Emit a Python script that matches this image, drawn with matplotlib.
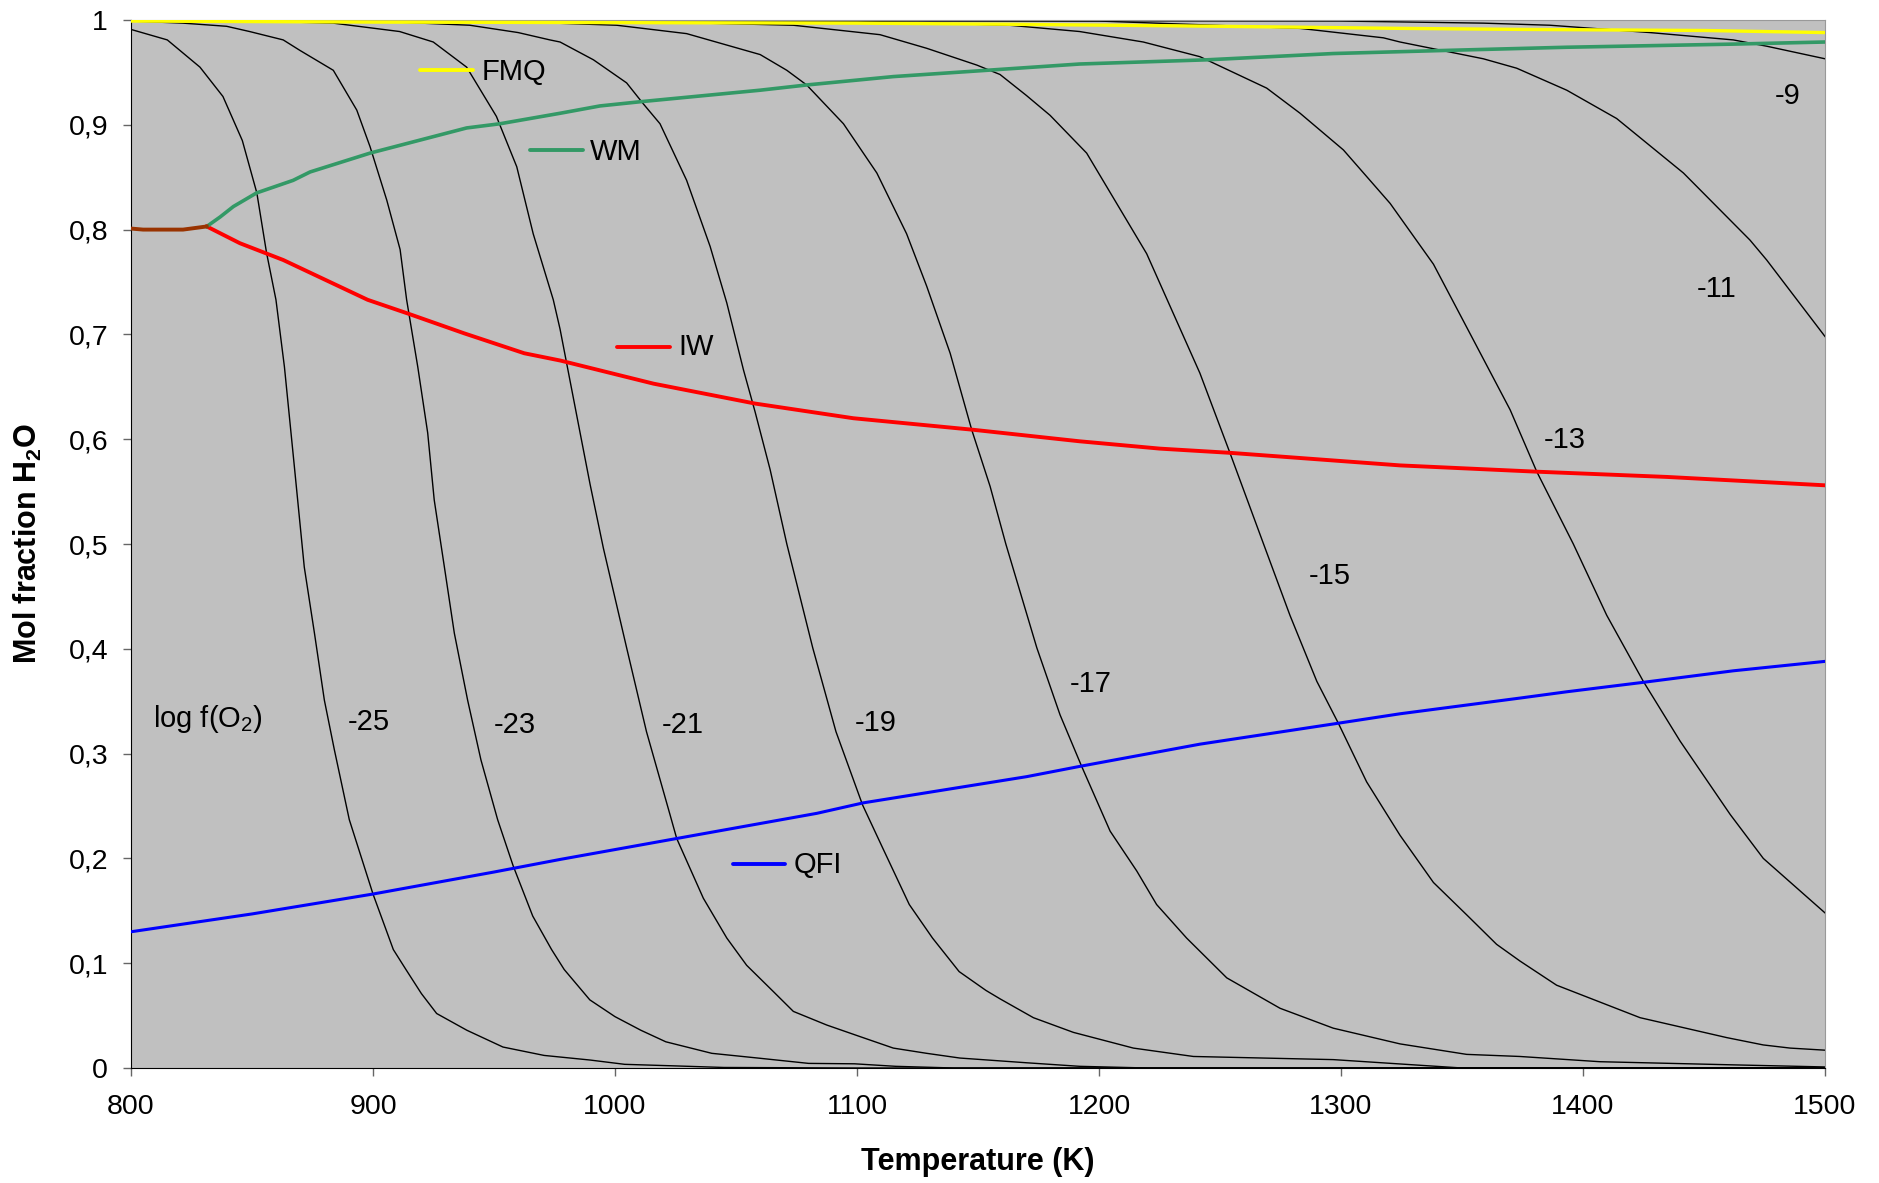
import matplotlib

matplotlib.use("Agg")
import matplotlib.pyplot as plt

plt.rcParams["font.family"] = ["Liberation Sans", "DejaVu Sans"]
plt.rcParams["mathtext.fontset"] = "custom"
plt.rcParams["mathtext.rm"] = "Liberation Sans"
plt.rcParams["mathtext.it"] = "Liberation Sans:italic"
plt.rcParams["mathtext.bf"] = "Liberation Sans:bold"

# --- buffer lines (mol fraction H2O vs temperature) ---
T_FMQ = [800, 900, 1000, 1100, 1160, 1250, 1325, 1375, 1450, 1500]
X_FMQ = [0.999, 0.998, 0.9975, 0.997, 0.996, 0.994, 0.992, 0.991, 0.990, 0.988]

T_WM = [831.3, 836.8, 842.3, 851.9, 867, 874, 898.8, 938.7, 952.5, 977.3, 993.8, 1010.4,
        1059.9, 1079.2, 1115, 1153.6, 1192, 1218.3, 1244.5, 1296.8, 1343.7, 1393.3, 1462.1, 1500]
X_WM = [0.803, 0.812, 0.822, 0.835, 0.847, 0.855, 0.873, 0.897, 0.901, 0.911, 0.918, 0.922,
        0.933, 0.938, 0.946, 0.952, 0.958, 0.960, 0.962, 0.968, 0.971, 0.974, 0.977, 0.979]

# shared low-T part of WM and IW
T_LOW = [800, 805, 821.5, 831.3]
X_LOW = [0.801, 0.800, 0.800, 0.803]

T_IW = [831.3, 845, 862.9, 897.8, 914.3, 937.7, 962.5, 977.5, 1015.9, 1057.9, 1098.5, 1148,
        1192, 1225.2, 1254.1, 1324.4, 1380.9, 1434.6, 1500]
X_IW = [0.803, 0.787, 0.771, 0.733, 0.720, 0.701, 0.682, 0.675, 0.653, 0.634, 0.620, 0.609,
        0.598, 0.591, 0.587, 0.575, 0.569, 0.564, 0.556]

T_QFI = [800, 850, 900, 950, 977.3, 1025.5, 1083.4, 1102.6, 1170.1, 1192.5, 1241.7, 1298.9,
         1324.4, 1374, 1393.3, 1424.9, 1462.1, 1500]
X_QFI = [0.130, 0.147, 0.166, 0.187, 0.199, 0.219, 0.243, 0.253, 0.278, 0.288, 0.309, 0.329,
         0.338, 0.353, 0.359, 0.368, 0.379, 0.388]

# --- iso-fO2 curves, labelled by log f(O2) ---
T_M25 = [800, 815, 828.5, 838, 846, 852, 856, 859.9, 863.4, 867.5, 871.6, 875.8, 879.9, 884,
         890.2, 900, 908.4, 913.6, 920, 926.3, 938.8, 953.7, 970.7, 989.7, 1004, 1025, 1045, 1100, 1500]
X_M25 = [0.991, 0.981, 0.955, 0.927, 0.885, 0.835, 0.778, 0.733, 0.669, 0.574, 0.478, 0.415, 0.351,
         0.304, 0.237, 0.166, 0.113, 0.094, 0.071, 0.052, 0.036, 0.020, 0.012, 0.0076, 0.0035, 0.002,
         0.0005, 0.0, 0.0]

T_M23 = [800, 821.5, 839.5, 849, 862.9, 869.8, 883.6, 893.3, 898.8, 905.7, 911.2, 913.9, 918.5,
         922.6, 925.3, 929.5, 933.6, 939.1, 944.6, 951.5, 957.9, 966, 973.8, 979, 989.6, 1000,
         1010.7, 1021, 1040, 1059, 1080, 1099, 1116, 1140, 1500]
X_M23 = [0.999, 0.997, 0.994, 0.989, 0.981, 0.971, 0.952, 0.914, 0.879, 0.828, 0.781, 0.733, 0.669,
         0.606, 0.542, 0.478, 0.415, 0.351, 0.294, 0.237, 0.193, 0.145, 0.113, 0.094, 0.065, 0.049,
         0.036, 0.025, 0.014, 0.0095, 0.0044, 0.004, 0.0016, 0.0, 0.0]

T_M21 = [800, 850, 883.6, 911, 924.9, 938.7, 951, 959.4, 966.2, 974.5, 977.3, 981.4, 985.5, 989.7,
         995.2, 1004.8, 1013, 1022.7, 1025.5, 1036.5, 1046.2, 1054.4, 1065.4, 1073.7, 1087.5, 1101.2,
         1115, 1128.8, 1142.5, 1170, 1192, 1220, 1500]
X_M21 = [1.0, 0.999, 0.997, 0.989, 0.979, 0.955, 0.908, 0.860, 0.796, 0.733, 0.705, 0.656, 0.607,
         0.557, 0.496, 0.401, 0.321, 0.242, 0.219, 0.162, 0.124, 0.098, 0.073, 0.054, 0.041, 0.030,
         0.019, 0.014, 0.0095, 0.005, 0.0016, 0.0, 0.0]

T_M19 = [800, 900, 940, 960, 973.1, 977.3, 991.1, 1004.8, 1011.7, 1018.6, 1029.6, 1039.3, 1046.2,
         1053.1, 1057.9, 1064.1, 1071, 1081.7, 1091.3, 1102.3, 1110.6, 1121.6, 1131.2, 1142.2,
         1153.3, 1159.1, 1172.9, 1189.4, 1214.2, 1239, 1296.8, 1350, 1500]
X_M19 = [1.0, 0.999, 0.995, 0.988, 0.981, 0.979, 0.962, 0.940, 0.920, 0.901, 0.847, 0.784, 0.730,
         0.666, 0.626, 0.571, 0.500, 0.401, 0.321, 0.251, 0.210, 0.156, 0.124, 0.092, 0.074, 0.066,
         0.048, 0.034, 0.019, 0.011, 0.008, 0.0, 0.0]

T_M17 = [800, 950, 1000.7, 1029.6, 1060, 1071, 1079.2, 1094.4, 1108.2, 1120.5, 1128.8, 1138.5,
         1147.4, 1155, 1161.5, 1174.3, 1183.9, 1192.8, 1204.6, 1215.6, 1223.8, 1236.2, 1252.8,
         1274.8, 1296.8, 1324.4, 1351.9, 1373.9, 1407, 1462, 1500]
X_M17 = [1.0, 0.999, 0.995, 0.987, 0.967, 0.952, 0.938, 0.901, 0.854, 0.796, 0.746, 0.682, 0.609,
         0.555, 0.500, 0.401, 0.337, 0.288, 0.226, 0.188, 0.156, 0.124, 0.086, 0.057, 0.038, 0.023,
         0.013, 0.011, 0.006, 0.003, 0.001]

T_M15 = [800, 1000, 1073.7, 1109.5, 1128.8, 1149.5, 1159.1, 1170, 1179.8, 1194.9, 1207.3, 1219.7,
         1230.7, 1241.7, 1254.1, 1268, 1278.9, 1290, 1298.9, 1310.6, 1324.4, 1338.2, 1352, 1364.3,
         1374, 1389.1, 1423.6, 1459.4, 1474.5, 1485.6, 1500]
X_M15 = [1.0, 0.999, 0.995, 0.986, 0.973, 0.957, 0.948, 0.928, 0.909, 0.873, 0.825, 0.777, 0.720,
         0.663, 0.587, 0.500, 0.432, 0.369, 0.329, 0.273, 0.222, 0.177, 0.146, 0.118, 0.102, 0.079,
         0.048, 0.029, 0.022, 0.019, 0.017]

T_M13 = [800, 1100, 1163, 1192, 1218.3, 1241.7, 1269.3, 1283.1, 1301, 1320.3, 1338.2, 1351.9,
         1369.9, 1380.9, 1396, 1409.8, 1424.9, 1440.1, 1460.8, 1474.5, 1500]
X_M13 = [1.0, 0.999, 0.995, 0.989, 0.979, 0.965, 0.935, 0.911, 0.876, 0.825, 0.767, 0.707, 0.628,
         0.569, 0.500, 0.432, 0.369, 0.312, 0.242, 0.200, 0.148]

T_M11 = [800, 1200, 1283.1, 1317.5, 1324.4, 1358.8, 1372.6, 1393.3, 1413.9, 1441.5, 1469, 1475.9, 1500]
X_M11 = [1.0, 0.999, 0.992, 0.983, 0.979, 0.963, 0.954, 0.933, 0.906, 0.854, 0.790, 0.771, 0.698]

T_M9 = [800, 1300, 1358.8, 1386.4, 1427.7, 1462.1, 1475.9, 1500]
X_M9 = [1.0, 0.999, 0.997, 0.995, 0.988, 0.981, 0.975, 0.963]

# curve labels: text, left T, baseline mol fraction
LABELS = ["-25", "-23", "-21", "-19", "-17", "-15", "-13", "-11", "-9"]
LABEL_T = [889.5, 950, 1019.3, 1099.2, 1188, 1286.5, 1383.6, 1447, 1479.3]
LABEL_X = [0.3225, 0.3193, 0.3197, 0.3219, 0.3588, 0.4618, 0.5913, 0.7354, 0.9198]

# in-plot key for the buffers
KEY_NAMES = ["FMQ", "WM", "IW", "QFI"]
KEY_T0 = [919.4, 964.9, 1000.7, 1048.9]
KEY_T1 = [941.4, 986.9, 1022.7, 1070.2]
KEY_X = [0.9523, 0.876, 0.6883, 0.1947]
KEY_TEXT_T = [944.9, 989.7, 1026.2, 1073.7]
KEY_TEXT_X = [0.9427, 0.8664, 0.6803, 0.1861]

Y_TICKS = [0, 0.1, 0.2, 0.3, 0.4, 0.5, 0.6, 0.7, 0.8, 0.9, 1.0]
Y_TICKLABELS = ["0", "0,1", "0,2", "0,3", "0,4", "0,5", "0,6", "0,7", "0,8", "0,9", "1"]
X_TICKS = [800, 900, 1000, 1100, 1200, 1300, 1400, 1500]

BUFFER_COLORS = ["#FFFF00", "#339966", "#FF0000", "#0000FF"]

fig = plt.figure(figsize=(18.79, 11.83), dpi=100)
ax = fig.add_axes([131 / 1879, 1 - 1068 / 1183, 1694 / 1879, 1048 / 1183])
ax.set_facecolor("#C0C0C0")

iso_curves = [(T_M25, X_M25), (T_M23, X_M23), (T_M21, X_M21), (T_M19, X_M19), (T_M17, X_M17),
              (T_M15, X_M15), (T_M13, X_M13), (T_M11, X_M11), (T_M9, X_M9)]
for t, x in iso_curves:
    ax.plot(t, x, color="black", linewidth=1.0, zorder=2)

ax.plot(T_QFI, X_QFI, color=BUFFER_COLORS[3], linewidth=2.2, zorder=3)
ax.plot(T_IW, X_IW, color=BUFFER_COLORS[2], linewidth=2.8, zorder=3)
ax.plot(T_WM, X_WM, color=BUFFER_COLORS[1], linewidth=2.6, zorder=3)
ax.plot(T_LOW, X_LOW, color="#993300", linewidth=2.8, zorder=3)
ax.plot(T_FMQ, X_FMQ, color=BUFFER_COLORS[0], linewidth=2.4, zorder=4)

for name, t0, t1, xk, tt, xt, c in zip(KEY_NAMES, KEY_T0, KEY_T1, KEY_X, KEY_TEXT_T, KEY_TEXT_X,
                                        BUFFER_COLORS):
    ax.plot([t0, t1], [xk, xk], color=c, linewidth=2.8, solid_capstyle="round", zorder=5)
    ax.text(tt, xt, name, fontsize=21, ha="left", va="baseline", zorder=5)

for lab, t, x in zip(LABELS, LABEL_T, LABEL_X):
    ax.text(t, x, lab, fontsize=21, ha="left", va="baseline", zorder=5)
ax.text(808.9, 0.3257, r"log f(O$_2$)", fontsize=21, ha="left", va="baseline", zorder=5)

ax.set_xlim(800, 1500)
ax.set_ylim(0, 1)
ax.set_xticks(X_TICKS)
ax.set_xticklabels([str(v) for v in X_TICKS])
ax.set_yticks(Y_TICKS)
ax.set_yticklabels(Y_TICKLABELS)
ax.tick_params(axis="both", direction="out", length=6, width=1, color="#666666", labelsize=20.5)
ax.tick_params(axis="y", pad=10.5)
ax.tick_params(axis="x", pad=13)

for side in ("top", "right"):
    ax.spines[side].set_color("#999999")
for side in ("left", "bottom"):
    ax.spines[side].set_color("black")

ax.set_xlabel("Temperature (K)", fontsize=22, fontweight="bold", va="center")
ax.xaxis.set_label_coords(0.5, -0.0897)
ax.set_ylabel(r"Mol fraction H$_\mathbf{2}$O", fontsize=22, fontweight="bold", va="center")
ax.yaxis.set_label_coords(-0.0611, 0.5)

fig.savefig("out.png", dpi=100, facecolor="white")
